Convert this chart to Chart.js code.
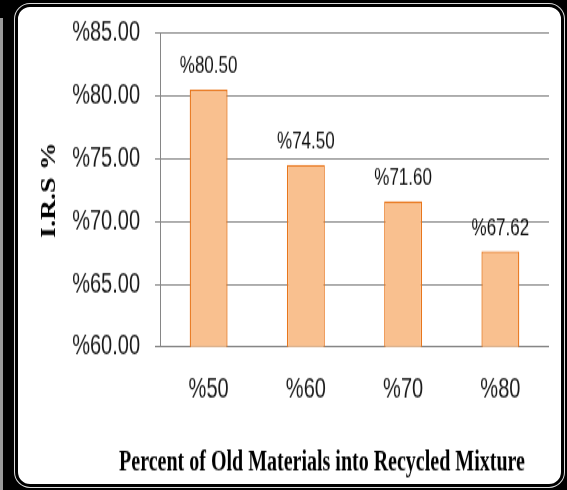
<!DOCTYPE html>
<html>
<head>
<meta charset="utf-8">
<script src="https://cdn.jsdelivr.net/npm/chart.js@4/dist/chart.umd.min.js"></script>
<style>
  html, body { margin: 0; padding: 0; background: #000; }
  body { width: 567px; height: 490px; position: relative; overflow: hidden; }
  #strip { position: absolute; left: 0; top: 18px; width: 3px; height: 472px; background: #9a9a9a; }
  #ring { position: absolute; left: 14px; top: 3px; width: 551px; height: 485px; background: #dcdcdc; border-radius: 16px; }
  #panel { position: absolute; left: 15px; top: 4px; width: 549px; height: 483px; box-sizing: border-box;
           border: 3px solid #000; border-radius: 15px; background: #fff; }
  #wrap { position: absolute; left: 0; top: 0; width: 567px; height: 350px;
          transform: scaleY(1.4); transform-origin: 0 0; }
  canvas { display: block; }
</style>
</head>
<body>
<div id="strip"></div>
<div id="ring"></div>
<div id="panel"></div>
<div id="wrap"><canvas id="chart" width="567" height="350"></canvas></div>
<script>
// Share of old material in the recycled mixture, and the resulting I.R.S value
const categories = ['%50', '%60', '%70', '%80'];
const irsValues = [80.50, 74.50, 71.60, 67.62];

// Value axis range
const axisMin = 60;
const axisMax = 85;
const axisStep = 5;

const yTitle = 'I.R.S %';
const xTitle = 'Percent of Old Materials into Recycled Mixture';

const pct = v => '%' + Number(v).toFixed(2);

// Value labels above each bar
const valueLabels = {
  id: 'valueLabels',
  afterDatasetsDraw(chart) {
    const ctx = chart.ctx;
    const meta = chart.getDatasetMeta(0);
    ctx.save();
    ctx.font = '17px "Liberation Sans", Arial, sans-serif';
    ctx.fillStyle = '#111';
    ctx.textAlign = 'center';
    ctx.textBaseline = 'alphabetic';
    meta.data.forEach((bar, i) => {
      ctx.fillText(pct(chart.data.datasets[0].data[i]), bar.x, bar.y - 11.8);
    });
    ctx.restore();
  }
};

// Category axis caption under the labels
const bottomCaption = {
  id: 'bottomCaption',
  afterDraw(chart) {
    const ctx = chart.ctx;
    ctx.save();
    ctx.font = 'bold 20px "Liberation Serif", "Times New Roman", serif';
    ctx.fillStyle = '#000';
    ctx.textAlign = 'center';
    ctx.textBaseline = 'alphabetic';
    ctx.fillText(xTitle, 322, 336.4);
    ctx.restore();
  }
};

new Chart(document.getElementById('chart'), {
  type: 'bar',
  data: {
    labels: categories,
    datasets: [{
      data: irsValues,
      backgroundColor: '#F9C08F',
      borderColor: '#E8761C',
      borderWidth: 1.3,
      borderSkipped: 'bottom',
      barPercentage: 0.39,
      categoryPercentage: 1
    }]
  },
  options: {
    responsive: false,
    animation: false,
    devicePixelRatio: 1,
    layout: { padding: { top: 23.6, right: 18, bottom: 0, left: 0 } },
    plugins: {
      legend: { display: false },
      tooltip: { enabled: false }
    },
    scales: {
      x: {
        offset: true,
        grid: { display: false, drawTicks: false },
        border: { display: false },
        ticks: {
          padding: 19,
          color: '#1a1a1a',
          font: { family: '"Liberation Sans", Arial, sans-serif', size: 20 }
        },
        afterFit(scale) { scale.height = 102.14; }
      },
      y: {
        min: axisMin,
        max: axisMax,
        grid: { color: '#868686', lineWidth: 1, drawTicks: true, tickLength: 5 },
        border: { display: true, color: '#868686', width: 1 },
        ticks: {
          stepSize: axisStep,
          padding: 15,
          color: '#1a1a1a',
          font: { family: '"Liberation Sans", Arial, sans-serif', size: 20 },
          callback: v => pct(v)
        },
        title: {
          display: true,
          text: yTitle,
          color: '#000',
          padding: { top: 38, bottom: 0 },
          font: { family: '"Liberation Serif", "Times New Roman", serif', size: 20, weight: 'bold' }
        },
        afterFit(scale) {
          scale.width = 160;
          scale.paddingTop = 0;
          scale.paddingBottom = 0;
        }
      }
    }
  },
  plugins: [valueLabels, bottomCaption]
});
</script>
</body>
</html>
